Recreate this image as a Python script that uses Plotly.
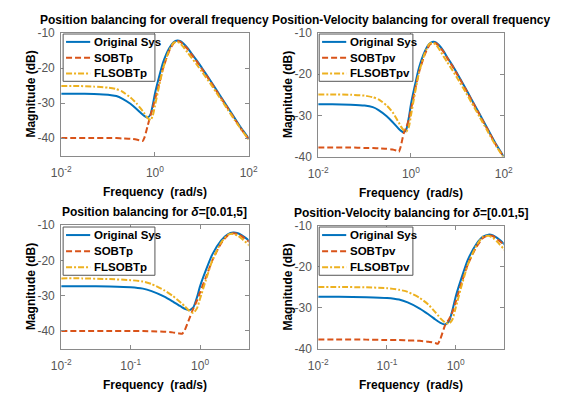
import plotly.graph_objects as go

# ---------------- data ----------------
freq = [0.01, 0.02, 0.05, 0.1, 0.15, 0.2, 0.3, 0.4, 0.5, 0.55, 0.6, 0.7, 0.8, 0.9,
        1.0, 1.2, 1.5, 2.0, 2.5, 3.0, 3.5, 4.0, 5.0, 6.0, 8.0, 10, 15, 20, 30, 50, 70, 100]

orig = [-27.3, -27.3, -27.4, -27.6, -28.0, -28.7, -30.2, -31.6, -32.8, -33.3, -33.7, -34.1,
        -33.3, -30.5, -27.3, -23.0, -18.3, -14.4, -12.6, -12.1, -12.3, -12.9, -14.3, -15.8,
        -18.0, -19.9, -23.4, -26.0, -29.6, -34.2, -37.2, -40.0]

sobtp = [-40.0, -40.0, -40.0, -40.0, -40.0, -40.1, -40.2, -40.4, -40.7, -40.8, -39.8, -36.5,
         -33.6, -31.4, -29.0, -25.0, -20.0, -15.2, -12.9, -12.3, -12.5, -13.2, -14.6, -16.1,
         -18.3, -20.2, -23.7, -26.3, -29.9, -34.5, -37.5, -40.2]

flsobtp = [-25.1, -25.1, -25.3, -25.6, -26.0, -26.7, -28.4, -30.0, -31.6, -32.3, -33.0, -34.3,
           -34.9, -33.6, -30.8, -25.8, -20.0, -15.0, -12.8, -12.5, -13.0, -13.9, -15.6, -17.0,
           -19.2, -21.0, -24.3, -26.8, -30.3, -34.8, -37.6, -40.4]

sobtpv = [-37.8, -37.8, -37.8, -37.9, -37.9, -38.0, -38.1, -38.3, -38.6, -38.8, -37.6, -34.3,
          -32.8, -31.0, -28.6, -24.2, -19.4, -15.1, -12.9, -12.3, -12.5, -13.2, -14.5, -16.0,
          -18.2, -20.1, -23.6, -26.2, -29.8, -34.4, -37.4, -40.1]

flsobtpv = [-24.9, -24.9, -25.0, -25.2, -25.6, -26.1, -27.6, -29.2, -31.0, -31.8, -32.6, -33.6,
            -33.9, -32.8, -30.0, -25.0, -19.5, -14.8, -12.6, -12.4, -12.9, -13.8, -15.6, -17.0,
            -19.2, -21.0, -24.3, -26.8, -30.3, -34.8, -37.6, -40.3]

panel_titles = [
    "Position balancing for overall frequency",
    "Position-Velocity balancing for overall frequency",
    "Position balancing for <i>δ</i>=[0.01,5]",
    "Position-Velocity balancing for <i>δ</i>=[0.01,5]",
]
legend_names_p = ["Original Sys", "SOBTp", "FLSOBTp"]
legend_names_pv = ["Original Sys", "SOBTpv", "FLSOBTpv"]

xt_full_vals = [0.01, 1, 100]
xt_full_text = ["10<sup>-2</sup>", "10<sup>0</sup>", "10<sup>2</sup>"]
xt_band_vals = [0.01, 0.1, 1]
xt_band_text = ["10<sup>-2</sup>", "10<sup>-1</sup>", "10<sup>0</sup>"]
yt_vals = [-40, -30, -20, -10]
yt_text = ["-40", "-30", "-20", "-10"]

# ---------------- styling ----------------
W, H = 562, 400
BLUE, ORANGE, YELLOW = "#0072BD", "#D95319", "#EDB120"
FONT = "Liberation Sans, Arial, sans-serif"
FRAME = "#8a8a8a"
TICKC = "#555555"

# panel pixel boxes: (left, right, top, bottom)
boxes = [(53, 247, 27, 154), (319, 511, 27, 155), (53, 247, 226, 354), (319, 511, 227, 354)]
yranges = [[-45, -10], [-40, -10], [-45, -10], [-40, -10]]
xranges = [[-2, 2], [-2, 2], [-2, 0.69897], [-2, 0.69897]]
# legend boxes in pixels: (left, right, top, bottom)
leg_boxes = [(55, 150, 28, 77), (320, 417, 28, 77), (55, 150, 228, 278), (320, 417, 228, 278)]

fig = go.Figure()

series_sets = [
    (orig, sobtp, flsobtp, legend_names_p),
    (orig, sobtpv, flsobtpv, legend_names_pv),
    (orig, sobtp, flsobtp, legend_names_p),
    (orig, sobtpv, flsobtpv, legend_names_pv),
]
styles = [
    dict(color=BLUE, width=2, dash="solid"),
    dict(color=ORANGE, width=2, dash="6px,3px"),
    dict(color=YELLOW, width=2, dash="6px,2px,2px,2px"),
]

annotations = []
shapes = []


def px(xp):
    return xp / W


def py(yp):
    return 1 - yp / H


for i, (box, (s0, s1, s2, names)) in enumerate(zip(boxes, series_sets)):
    k = "" if i == 0 else str(i + 1)
    for ys, nm, st in zip((s0, s1, s2), names, styles):
        fig.add_trace(go.Scatter(
            x=freq, y=ys, name=nm, mode="lines",
            line=dict(color=st["color"], width=st["width"], dash=st["dash"],
                      shape="spline", smoothing=0.5),
            xaxis="x" + k, yaxis="y" + k, showlegend=False,
        ))
    l, r, t, b = box
    full = i < 2
    fig.layout["xaxis" + k] = dict(
        domain=[px(l), px(r)], anchor="y" + k, type="log", range=xranges[i],
        tickmode="array",
        tickvals=xt_full_vals if full else xt_band_vals,
        ticktext=xt_full_text if full else xt_band_text,
        showline=True, linecolor=FRAME, linewidth=1, mirror="allticks",
        ticks="inside", ticklen=4, tickcolor=FRAME, ticklabelstandoff=6,
        showgrid=False, zeroline=False,
        tickfont=dict(family=FONT, size=12, color=TICKC),
    )
    fig.layout["yaxis" + k] = dict(
        domain=[py(b), py(t)], anchor="x" + k, range=yranges[i],
        tickmode="array", tickvals=yt_vals, ticktext=yt_text,
        showline=True, linecolor=FRAME, linewidth=1, mirror="allticks",
        ticks="inside", ticklen=4, tickcolor=FRAME, ticklabelstandoff=3,
        showgrid=False, zeroline=False,
        tickfont=dict(family=FONT, size=12, color=TICKC),
    )
    cx = px((l + r) / 2)
    annotations.append(dict(
        text="<b>" + panel_titles[i] + "</b>", x=cx, y=py(t - 14),
        xref="paper", yref="paper", xanchor="center", yanchor="middle", showarrow=False,
        font=dict(family=FONT, size=12, color="black"),
    ))
    annotations.append(dict(
        text="<b>Frequency  (rad/s)</b>", x=cx, y=py(b + 38),
        xref="paper", yref="paper", xanchor="center", yanchor="middle", showarrow=False,
        font=dict(family=FONT, size=12, color="black"),
    ))
    annotations.append(dict(
        text="<b>Magnitude (dB)</b>", x=px(l - 31), y=py((t + b) / 2),
        xref="paper", yref="paper", xanchor="center", yanchor="middle", showarrow=False,
        textangle=-90, font=dict(family=FONT, size=12, color="black"),
    ))

    # legend (drawn as a framed box with line samples and labels)
    ll, lr, lt, lb = leg_boxes[i]
    shapes.append(dict(type="rect", xref="paper", yref="paper",
                       x0=px(ll), x1=px(lr), y0=py(lb), y1=py(lt),
                       fillcolor="white", line=dict(color="#555555", width=1), layer="above"))
    row_h = (lb - lt) / 3.0
    for j, (nm, st) in enumerate(zip(names, styles)):
        yc = lt + row_h * (j + 0.5)
        shapes.append(dict(type="line", xref="paper", yref="paper",
                           x0=px(ll + 3), x1=px(ll + 28), y0=py(yc), y1=py(yc),
                           line=dict(color=st["color"], width=2, dash=st["dash"]),
                           layer="above"))
        annotations.append(dict(
            text="<b>" + nm + "</b>", x=px(ll + 30), y=py(yc),
            xref="paper", yref="paper", xanchor="left", yanchor="middle", showarrow=False,
            font=dict(family=FONT, size=11.5, color="black"),
        ))

fig.update_layout(
    width=W, height=H, margin=dict(l=0, r=0, t=0, b=0),
    paper_bgcolor="white", plot_bgcolor="white",
    annotations=annotations, shapes=shapes, showlegend=False,
)

fig.write_html("out.html")
